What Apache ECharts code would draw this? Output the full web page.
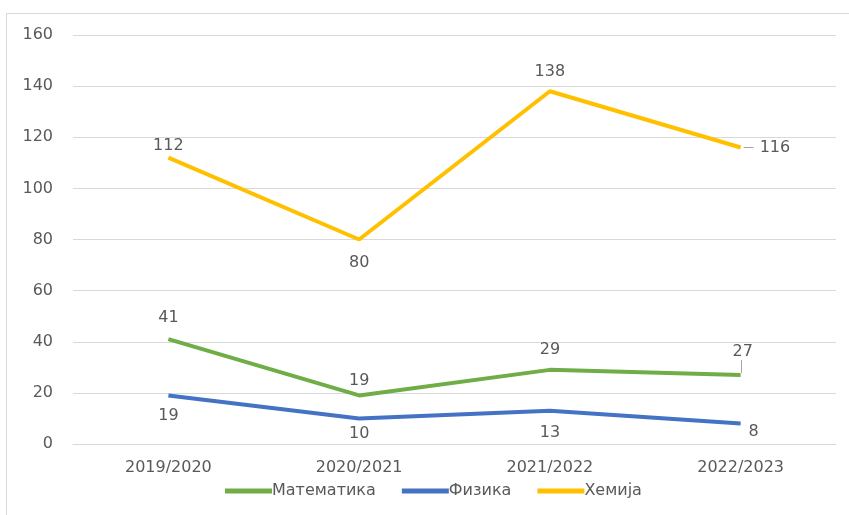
<!DOCTYPE html>
<html>
<head>
<meta charset="utf-8">
<script src="https://cdn.jsdelivr.net/npm/echarts@6/dist/echarts.min.js"></script>
<style>
html,body{margin:0;padding:0;background:#fff;}
#frame{position:absolute;left:6px;top:13px;width:860px;height:520px;border:1px solid #d9d9d9;box-sizing:border-box;}
#chart{position:absolute;left:0;top:0;width:849px;height:515px;}
</style>
</head>
<body>
<div id="frame"></div>
<div id="chart"></div>
<script>
const categories = ['2019/2020', '2020/2021', '2021/2022', '2022/2023'];
const matematika = [41, 19, 29, 27];
const fizika = [19, 10, 13, 8];
const hemija = [112, 80, 138, 116];
const yTicks = [0, 20, 40, 60, 80, 100, 120, 140, 160];

const font = 'DejaVu Sans, sans-serif';
const txt = '#595959';
const fs = 16;

function items(vals, labelCfgs) {
  return vals.map((v, i) => ({ value: v, label: labelCfgs[i] }));
}

const chart = echarts.init(document.getElementById('chart'));
chart.setOption({
  animation: false,
  textStyle: { fontFamily: font },
  grid: { left: 73, right: 13, top: 35, bottom: 71 },
  legend: {
    top: 483,
    left: 225,
    padding: 0,
    icon: 'rect',
    itemWidth: 47,
    itemHeight: 5,
    itemGap: 26,
    textStyle: { color: txt, fontSize: fs, fontFamily: font, padding: [0, 0, 0, -5] },
    data: ['Математика', 'Физика', 'Хемија']
  },
  xAxis: {
    type: 'category',
    data: categories,
    boundaryGap: true,
    axisLine: { lineStyle: { color: '#d9d9d9' } },
    axisTick: { show: false },
    axisLabel: { color: txt, fontSize: fs, margin: 16 }
  },
  yAxis: {
    type: 'value',
    min: yTicks[0],
    max: yTicks[yTicks.length - 1],
    interval: 20,
    axisLine: { show: false },
    axisTick: { show: false },
    axisLabel: { color: txt, fontSize: fs, margin: 20 },
    splitLine: { lineStyle: { color: '#d9d9d9' } }
  },
  series: [
    {
      name: 'Математика', type: 'line', symbol: 'circle', symbolSize: 0,
      lineStyle: { width: 4, color: '#70AD47' }, itemStyle: { color: '#70AD47' },
      label: { show: true, color: txt, fontSize: fs, position: 'top', distance: 10 },
      data: items(matematika, [
        { position: 'top', distance: 13 },
        { position: 'top', distance: 7 },
        { position: 'top', distance: 12 },
        { position: 'top', distance: 15, offset: [2, 0] }
      ])
    },
    {
      name: 'Физика', type: 'line', symbol: 'circle', symbolSize: 0,
      lineStyle: { width: 4, color: '#4472C4' }, itemStyle: { color: '#4472C4' },
      label: { show: true, color: txt, fontSize: fs, position: 'bottom', distance: 10 },
      data: items(fizika, [
        { position: 'bottom', distance: 12 },
        { position: 'bottom', distance: 7 },
        { position: 'bottom', distance: 14 },
        { position: 'bottom', distance: 0, offset: [13, 0] }
      ])
    },
    {
      name: 'Хемија', type: 'line', symbol: 'circle', symbolSize: 0,
      lineStyle: { width: 4, color: '#FFC000' }, itemStyle: { color: '#FFC000' },
      label: { show: true, color: txt, fontSize: fs, position: 'top', distance: 8 },
      data: items(hemija, [
        { position: 'top', distance: 4 },
        { position: 'bottom', distance: 15 },
        { position: 'top', distance: 11 },
        { position: 'right', distance: 19 }
      ])
    }
  ]
});

// leader lines (Excel style) anchored to the library's own pixel mapping
const pM = chart.convertToPixel({ seriesIndex: 0 }, [3, matematika[3]]);
const pH = chart.convertToPixel({ seriesIndex: 2 }, [3, hemija[3]]);
const ls = { stroke: '#a6a6a6', lineWidth: 1 };
chart.setOption({
  graphic: [
    { type: 'line', shape: { x1: Math.round(pM[0]) + 0.5, y1: pM[1] - 2, x2: Math.round(pM[0]) + 0.5, y2: pM[1] - 15 }, style: ls, silent: true },
    { type: 'line', shape: { x1: pH[0] + 3, y1: Math.round(pH[1]) + 0.5, x2: pH[0] + 13, y2: Math.round(pH[1]) + 0.5 }, style: ls, silent: true }
  ]
});
</script>
</body>
</html>
